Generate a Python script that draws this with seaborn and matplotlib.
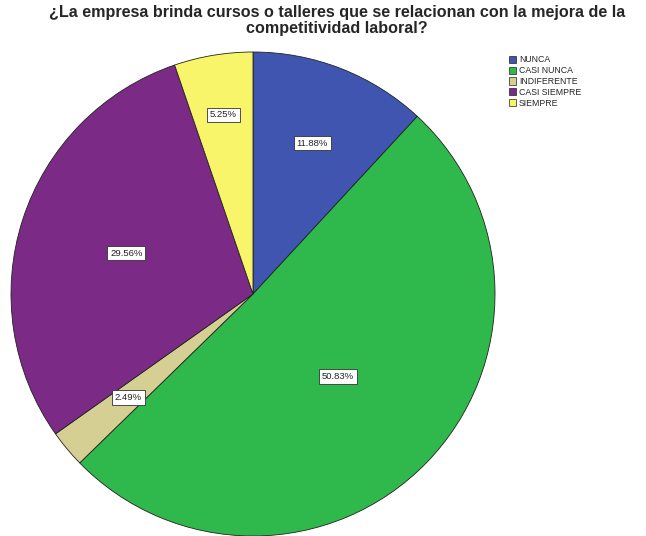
import matplotlib
matplotlib.use("Agg")
import matplotlib.pyplot as plt
import seaborn as sns
import numpy as np

sns.set_style("white")
plt.rcParams['font.family'] = ['Liberation Sans', 'DejaVu Sans']

categorias = ['NUNCA', 'CASI NUNCA', 'INDIFERENTE', 'CASI SIEMPRE', 'SIEMPRE']
porcentajes = [11.88, 50.83, 2.49, 29.56, 5.25]
colores = ['#3f55b0', '#2fb84c', '#d6cf94', '#7b2a86', '#f8f56b']
# distancia radial de cada etiqueta (fraccion del radio)
dist_etiquetas = [0.67, 0.49, 0.67, 0.55, 0.75]

fig = plt.figure(figsize=(6.46, 5.36), dpi=100)
ax = fig.add_axes([11 / 646, 0.0, 484 / 646, 484 / 536])

wedges, texts = ax.pie(
    porcentajes, colors=colores, startangle=90, counterclock=False,
    wedgeprops=dict(edgecolor='#222222', linewidth=0.6),
)
for w in wedges:
    w.set_clip_on(False)

for w, p, d in zip(wedges, porcentajes, dist_etiquetas):
    ang = np.deg2rad((w.theta1 + w.theta2) / 2)
    ax.text(d * np.cos(ang), d * np.sin(ang), f'{p:.2f}%', ha='center', va='center',
            fontsize=6.8, color='#222222',
            bbox=dict(boxstyle='square,pad=0.3', facecolor='white', edgecolor='#333333', linewidth=0.6))

ax.set_xlim(-1, 1)
ax.set_ylim(-1, 1)
ax.set_aspect('equal')
ax.axis('off')

fig.text(0.522, 0.99, '¿La empresa brinda cursos o talleres que se relacionan con la mejora de la\ncompetitividad laboral?',
         ha='center', va='top', fontsize=11.6, fontweight='bold', linespacing=1.02)

leg = fig.legend(wedges, categorias, loc='upper left', bbox_to_anchor=(505 / 646, 1 - 52 / 536),
                 frameon=False, fontsize=6.3, handlelength=0.9, handleheight=0.9,
                 handletextpad=0.3, labelspacing=0.2, borderaxespad=0)
for h in leg.legend_handles:
    h.set_linewidth(0.5)

fig.savefig('out.png', dpi=100)
